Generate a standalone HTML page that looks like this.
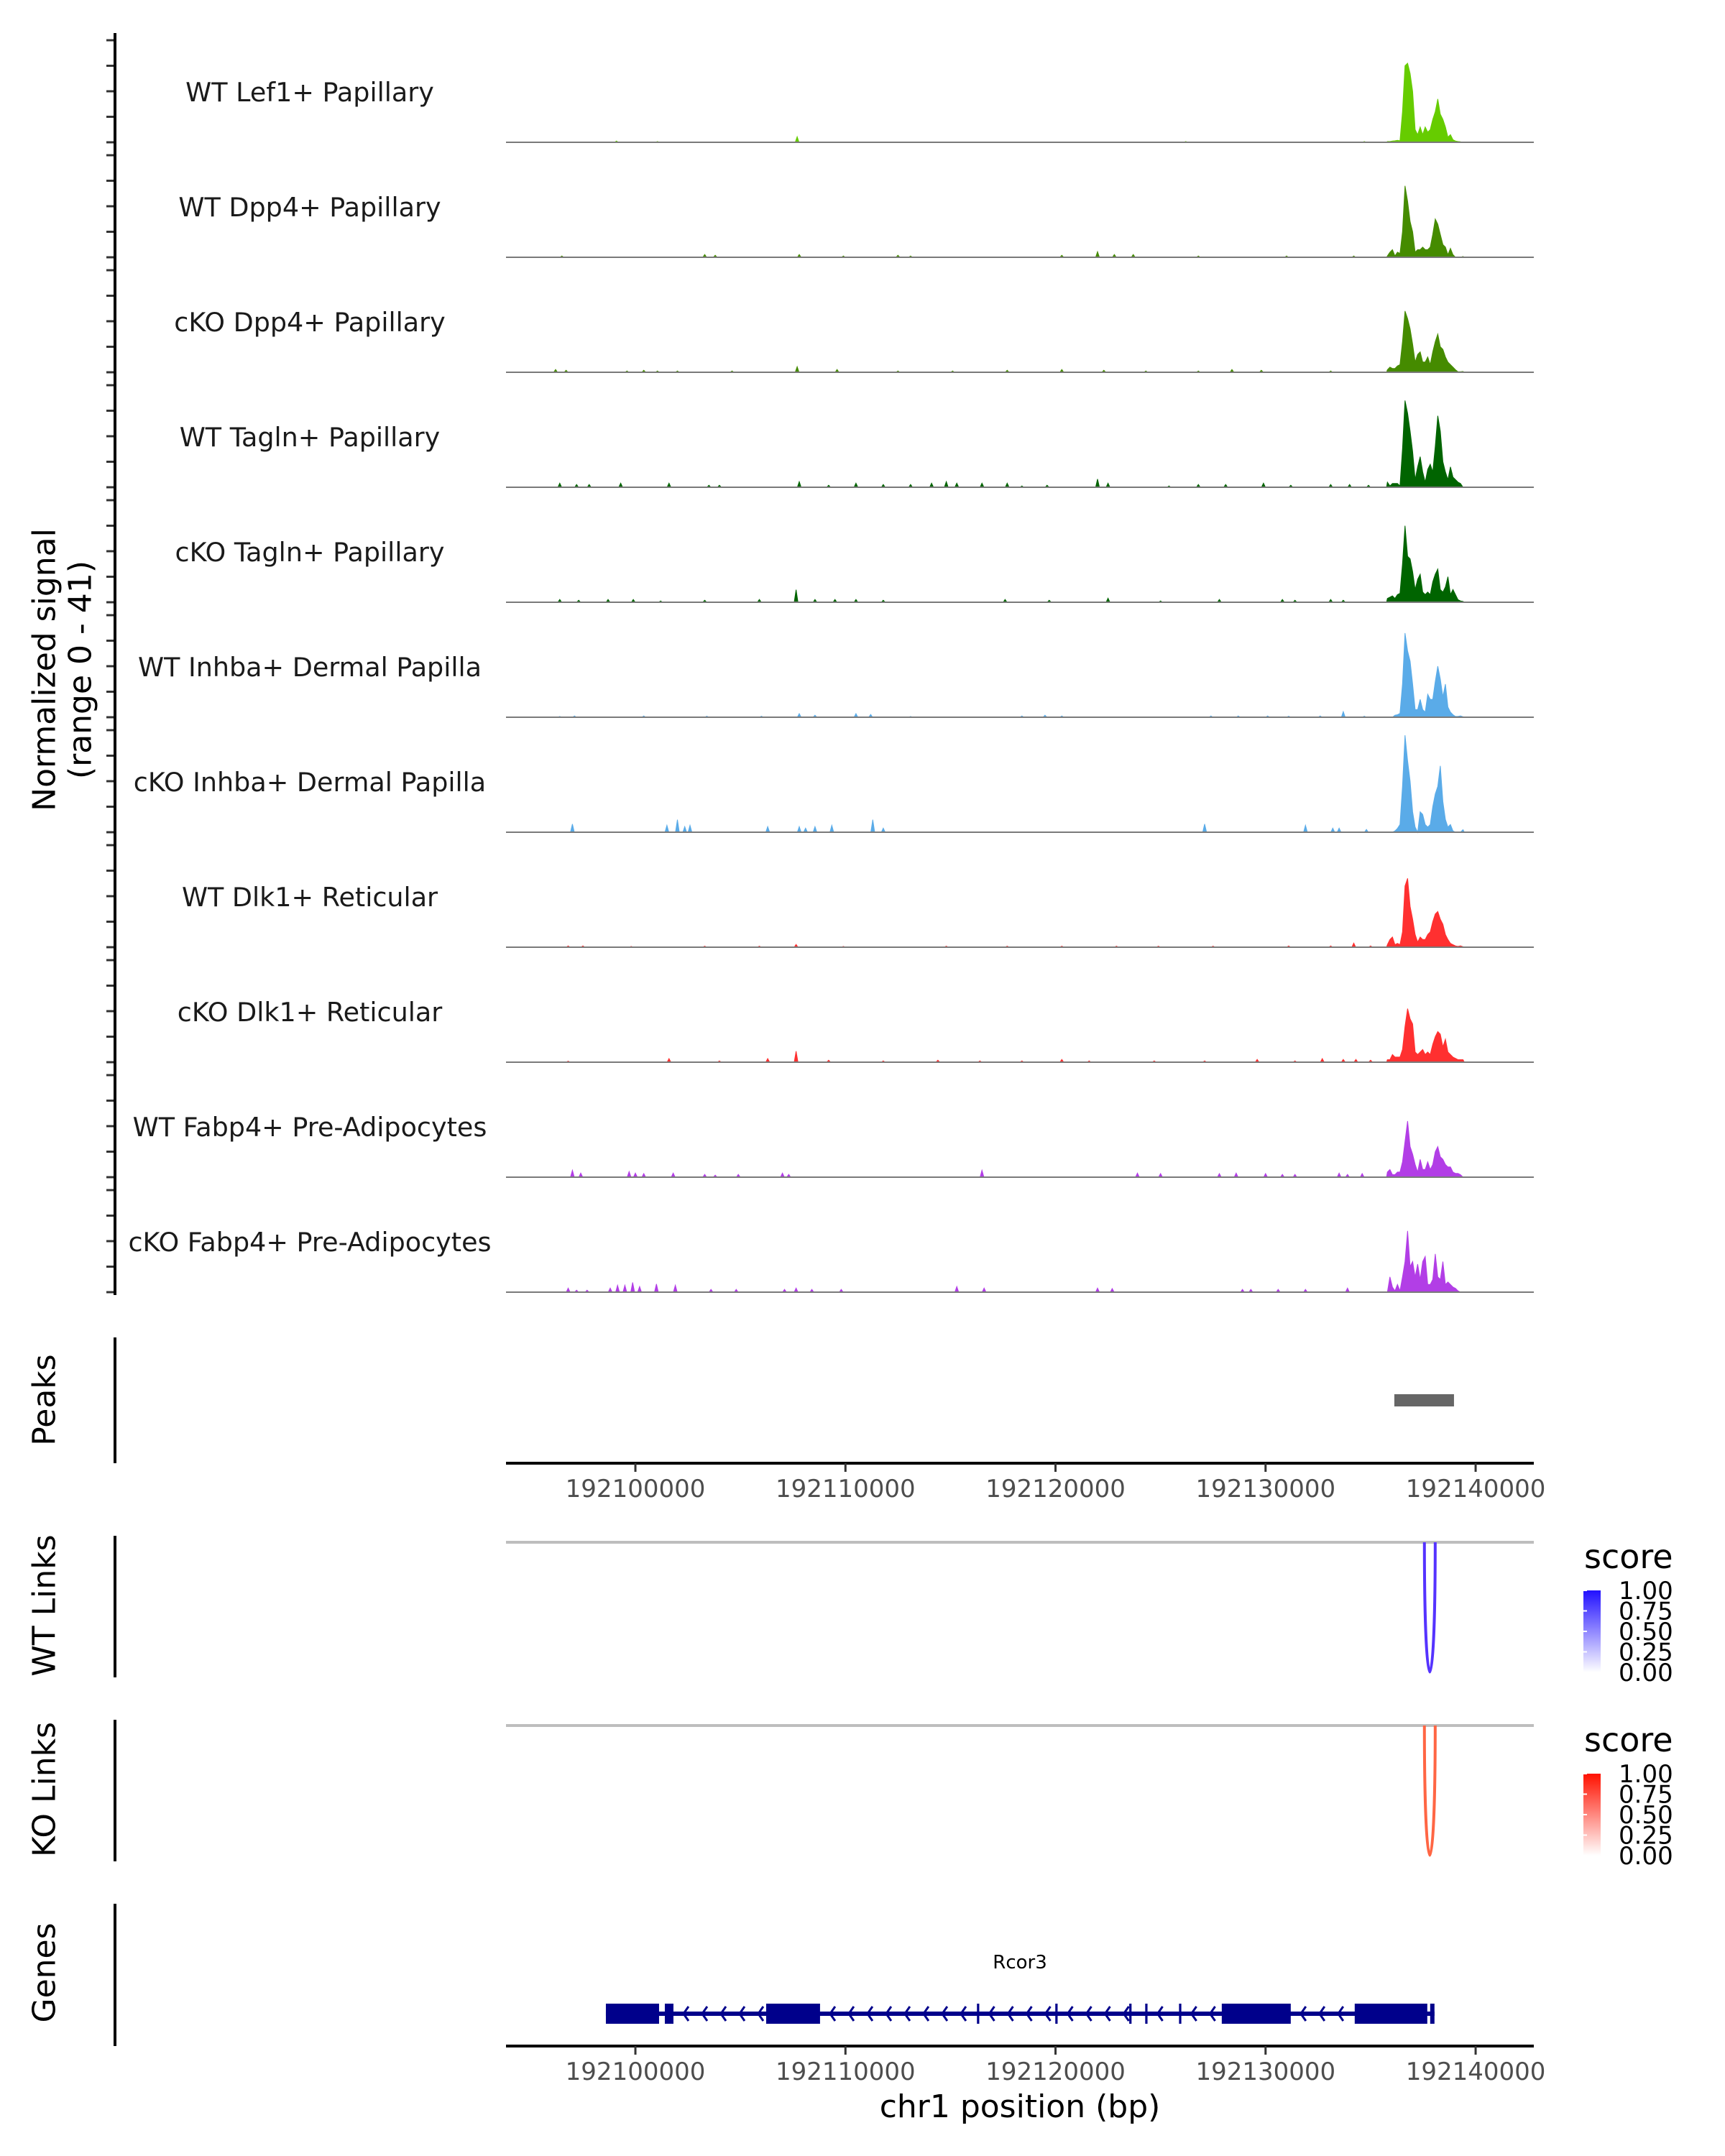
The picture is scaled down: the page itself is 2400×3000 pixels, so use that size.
<!DOCTYPE html>
<html><head><meta charset="utf-8"><style>
html,body{margin:0;padding:0;background:#fff;}
svg{display:block;font-family:"DejaVu Sans","Liberation Sans",sans-serif;}
</style></head><body>
<svg id="chart" xmlns="http://www.w3.org/2000/svg" width="2400" height="3000" viewBox="0 0 2400 3000">
<rect width="2400" height="3000" fill="#fff"/>
<g id="tracks"></g>
<g id="axes"></g>
<g id="genes"></g>
<g id="links"></g>
<text transform="translate(62,932) rotate(-90)" text-anchor="middle" dominant-baseline="central" font-size="44" fill="#000">Normalized signal</text>
<text transform="translate(112,932) rotate(-90)" text-anchor="middle" dominant-baseline="central" font-size="44" fill="#000">(range 0 - 41)</text>
<text transform="translate(62,1948) rotate(-90)" text-anchor="middle" dominant-baseline="central" font-size="44" fill="#000">Peaks</text>
<text transform="translate(62,2234) rotate(-90)" text-anchor="middle" dominant-baseline="central" font-size="44" fill="#000">WT Links</text>
<text transform="translate(62,2490) rotate(-90)" text-anchor="middle" dominant-baseline="central" font-size="44" fill="#000">KO Links</text>
<text transform="translate(62,2745) rotate(-90)" text-anchor="middle" dominant-baseline="central" font-size="44" fill="#000">Genes</text>
<text x="1419" y="2946" text-anchor="middle" font-size="44" fill="#000">chr1 position (bp)</text>
<text x="1419" y="2739" text-anchor="middle" font-size="26" fill="#000">Rcor3</text>
</svg>
<script>
const trackNames = ["WT Lef1+ Papillary","WT Dpp4+ Papillary","cKO Dpp4+ Papillary","WT Tagln+ Papillary","cKO Tagln+ Papillary","WT Inhba+ Dermal Papilla","cKO Inhba+ Dermal Papilla","WT Dlk1+ Reticular","cKO Dlk1+ Reticular","WT Fabp4+ Pre-Adipocytes","cKO Fabp4+ Pre-Adipocytes"];
const trackColors = ["#66cc00","#458b00","#458b00","#006400","#006400","#5aabe8","#5aabe8","#ff3030","#ff3030","#b23ee6","#b23ee6"];
// peak region bins (kb)
const peakPos = [192135.80,192135.92,192136.04,192136.16,192136.28,192136.40,192136.52,192136.64,192136.76,192136.88,192137.00,192137.12,192137.24,192137.36,192137.48,192137.60,192137.72,192137.84,192137.96,192138.08,192138.20,192138.32,192138.44,192138.56,192138.68,192138.80,192138.92,192139.04,192139.16,192139.28,192139.40];
const peak1 = [0.3,0.3,0.5,0.6,0.8,0.6,12,30,31,27,20,5,3,6,3,6,4,5,9,12,17,11,9,6,2,3,1,0.5,0.3,0.2,0.1];
const peak2 = [0.5,2,3,0.5,2,1.5,10,28,22,14,10,2,3,3,4,3,3,4,9,15,13,9,5,4,1,3.5,1,0,0,0,0.3];
const peak3 = [1,2,1.5,1.5,2.5,3,12,24,21,17,11,4,7,8,4,4,6,3,8,12,15,10,9,6,4,3,2,1,0.2,0.2,0.3];
const peak4 = [2,0.5,1.5,1.5,1.5,0.5,15,34,29,22,14,3,8,12,6,2,7,9,6,16,28,22,10,6,3,8,4,3,2,1.5,0];
const peak5 = [1.5,2,2.5,1.5,3,3.5,15,30,18,17,12,5,9,11,4,3,4,3,8,11,13,5,4,6,10,3,5,3,1,0.5,0.3];
const peak6 = [0,0,0,0.8,1,1.5,13,33,26,22,13,3,3,7,3,2,9,7,7,14,20,15,8,13,4,2,1,0.3,0.3,0.5,0.2];
const peak7 = [0,0,0,0.5,1.5,3,18,38,28,20,8,2,0,8,7,3,2,3,10,15,18,26,12,5,2,3,0.5,0,0,0,1];
const peak8 = [1,3,4,1,1.5,1,6,24,27,16,11,5,2,4,3,3,5,6,10,13,14,11,9,5,3,1.5,1,0.5,0.3,0.5,0.2];
const peak9 = [1,1,3,2,2,2,5,14,21,17,15,4,3,4,5,3,4,3,7,10,12,11,6,9,4,3,2,1.5,1,1,1];
const peak10 = [2,3,1,1,2,2,6,14,22,12,9,5,2,7,3,3,6,3,5,10,12,8,7,5,4,4,2,1.5,1.5,1,0];
const peak11 = [0,6,2,0.5,3,0.5,6,12,24,10,12,6,11,5,12,14,3,3,5,15,6,5,12,3,4,3,2,1.5,0.5,0,0];
// background spikes: positions (kb) and values
const spikePos1 = [192099.1,192101.05,192107.7,192126.2,192134.7];
const spikeVal1 = [0.5,0.3,2.2,0.3,0.3];
const spikePos2 = [192096.5,192103.3,192103.8,192107.8,192109.9,192112.5,192113.1,192120.3,192122.0,192122.8,192123.7,192126.8,192131.0,192134.2];
const spikeVal2 = [0.5,1.1,0.8,1.1,0.5,0.8,0.5,0.8,2.2,1.1,1.1,0.5,0.5,0.5];
const spikePos3 = [192096.2,192096.7,192099.6,192100.4,192101.05,192102.0,192104.6,192107.7,192109.6,192112.5,192115.1,192117.7,192120.3,192122.3,192124.3,192126.8,192128.4,192129.8,192133.1];
const spikeVal3 = [1.1,0.8,0.5,0.8,0.5,0.5,0.5,2.2,1.1,0.5,0.5,0.8,1.1,0.8,0.5,0.5,1.1,0.8,0.5];
const spikePos4 = [192096.4,192097.2,192097.8,192099.3,192101.6,192103.5,192104.0,192107.8,192109.2,192110.5,192111.8,192113.1,192114.1,192114.8,192115.3,192116.5,192117.7,192118.4,192119.6,192122.0,192122.5,192125.4,192126.8,192128.1,192129.9,192131.2,192133.1,192134.0,192134.9];
const spikeVal4 = [1.6,1.1,1.1,1.6,1.6,0.8,0.8,2.2,0.8,1.6,1.1,1.1,1.6,2.2,1.6,1.6,1.6,0.5,0.8,3.2,1.6,0.5,1.1,1.1,1.6,0.8,1.1,1.1,0.8];
const spikePos5 = [192096.4,192097.3,192098.7,192099.9,192101.2,192103.3,192105.9,192107.65,192108.55,192109.5,192110.5,192111.8,192117.6,192119.7,192122.5,192125.0,192127.8,192130.8,192131.4,192133.1,192133.7];
const spikeVal5 = [1.1,0.8,1.1,1.1,0.5,0.8,1.1,4.9,1.1,1.1,1.1,0.8,1.1,0.8,1.6,0.5,1.1,1.1,0.8,1.1,0.8];
const spikePos6 = [192096.4,192097.1,192100.4,192103.4,192106.0,192107.8,192108.55,192110.5,192111.2,192113.1,192118.4,192119.5,192120.3,192127.4,192128.7,192130.1,192131.1,192132.6,192133.7,192134.7];
const spikeVal6 = [0.3,0.5,0.5,0.4,0.4,1.4,0.8,1.4,1.1,0.3,0.5,0.8,0.5,0.5,0.5,0.5,0.4,0.5,2.2,0.4];
const spikePos7 = [192097.0,192101.5,192102.0,192102.35,192102.6,192106.3,192107.8,192108.1,192108.55,192109.35,192111.3,192111.8,192127.1,192131.9,192133.2,192133.5,192134.8];
const spikeVal7 = [3.2,2.7,4.9,2.2,2.7,2.2,2.2,1.6,2.2,2.7,4.9,1.6,3.2,2.7,1.6,1.6,1.1];
const spikePos8 = [192096.8,192097.5,192099.8,192103.3,192105.9,192107.65,192109.9,192114.8,192117.7,192120.3,192122.9,192124.9,192127.5,192131.1,192133.1,192134.2,192135.0];
const spikeVal8 = [0.5,0.5,0.3,0.4,0.4,1.1,0.3,0.4,0.4,0.4,0.4,0.4,0.4,0.5,0.5,1.6,0.5];
const spikePos9 = [192096.8,192101.6,192104.0,192106.3,192107.65,192109.2,192111.8,192114.4,192116.4,192118.4,192120.3,192121.6,192124.7,192127.1,192129.6,192131.4,192132.7,192133.7,192134.3,192135.0];
const spikeVal9 = [0.4,1.4,0.5,1.4,4.3,0.8,0.5,0.8,0.5,0.5,1.1,0.5,0.5,0.5,1.1,0.5,1.4,1.1,1.1,0.8];
const spikePos10 = [192097.0,192097.4,192099.7,192100.0,192100.4,192101.8,192103.3,192103.8,192104.9,192107.0,192107.3,192116.5,192123.9,192125.0,192127.8,192128.6,192130.0,192130.8,192131.4,192133.5,192133.9,192134.6];
const spikeVal10 = [2.7,1.6,2.2,1.6,1.4,1.6,1.1,0.8,1.1,1.6,1.1,2.7,1.6,1.4,1.4,1.6,1.4,1.1,1.1,1.6,1.1,1.4];
const spikePos11 = [192096.8,192097.2,192097.7,192098.8,192099.15,192099.5,192099.87,192100.2,192101.0,192101.9,192103.6,192104.8,192107.1,192107.65,192108.4,192109.8,192115.3,192116.6,192122.0,192122.7,192128.9,192129.3,192130.6,192131.9,192133.9];
const spikeVal11 = [1.6,0.8,0.8,1.6,2.7,2.7,3.8,2.2,3.2,2.7,1.1,1.1,1.1,1.6,1.1,1.1,2.2,1.6,1.6,1.4,1.1,1.1,1.1,1.1,1.6];
const peakSeries = [peak1,peak2,peak3,peak4,peak5,peak6,peak7,peak8,peak9,peak10,peak11];
const spikePosSeries = [spikePos1,spikePos2,spikePos3,spikePos4,spikePos5,spikePos6,spikePos7,spikePos8,spikePos9,spikePos10,spikePos11];
const spikeValSeries = [spikeVal1,spikeVal2,spikeVal3,spikeVal4,spikeVal5,spikeVal6,spikeVal7,spikeVal8,spikeVal9,spikeVal10,spikeVal11];
const xTickLabels = ["192100000","192110000","192120000","192130000","192140000"];
const xTickValues = [192100000,192110000,192120000,192130000,192140000];
const yTickValues = [0,10,20,30,40];
const peakRegions = [[192136130,192138970]];
const geneExons = [[192098595,192101127],[192101401,192101811],[192106225,192108790],[192116260,192116370],[192119990,192120100],[192123510,192123620],[192124270,192124380],[192125880,192125990],[192127915,192131199],[192134244,192137699],[192137836,192138041]];
const geneStart = 192098595, geneEnd = 192138041;
const wtLinks = [[192137562,192138076,0.8]];
const koLinks = [[192137562,192138076,0.7]];
const legendLabels = ["1.00","0.75","0.50","0.25","0.00"];

const NS = "http://www.w3.org/2000/svg";
function mk(tag, attrs, parent){const e=document.createElementNS(NS,tag);for(const k in attrs)e.setAttribute(k,attrs[k]);parent.appendChild(e);return e;}
const X0=704, X1=2134, BP0=192093840, BP1=192142770;
function xs(bp){return X0+(bp-BP0)/(BP1-BP0)*(X1-X0);}
const TRACK_TOP0=198, TRACK_STEP=160, PX_PER_UNIT=3.55;
function ys(k,v){return TRACK_TOP0+k*TRACK_STEP - v*PX_PER_UNIT;}

const gT=document.getElementById('tracks');
const gA=document.getElementById('axes');
for(let k=0;k<trackNames.length;k++){
  const base=ys(k,0);
  const pts=[];
  const sp=spikePosSeries[k], sv=spikeValSeries[k];
  for(let i=0;i<sp.length;i++){const b=sp[i]*1000;pts.push([b-90,0],[b,sv[i]],[b+90,0]);}
  const pv=peakSeries[k];
  pts.push([peakPos[0]*1000-40,0]);
  for(let i=0;i<peakPos.length;i++)pts.push([peakPos[i]*1000,pv[i]]);
  let d='M'+X0+','+base;
  pts.forEach(p=>{d+=' L'+xs(p[0]).toFixed(1)+','+ys(k,p[1]).toFixed(1);});
  d+=' L'+xs(peakPos[peakPos.length-1]*1000+60).toFixed(1)+','+base+' Z';
  const area=mk('path',{d:d,fill:trackColors[k],stroke:trackColors[k],'stroke-width':1},gT);
  
  
  const bl=mk('line',{x1:X0,x2:X1,y1:base,y2:base,stroke:'#7a7a7a','stroke-width':2},gT);
  
  
  const lab=mk('text',{x:431,y:base-57,'text-anchor':'middle','font-size':36.5,fill:'#1a1a1a'},gT);
  lab.textContent=trackNames[k];
  
  
  yTickValues.forEach(v=>{
    const t=mk('line',{x1:148,x2:160,y1:ys(k,v),y2:ys(k,v),stroke:'#333','stroke-width':3},gA);
    
    
  });
}
function vaxis(y1,y2,name){const l=mk('line',{x1:160,x2:160,y1:y1,y2:y2,stroke:'#000','stroke-width':4},gA);}
vaxis(46,1802,'signal-y-axis');
vaxis(1861,2036,'peaks-y-axis');
vaxis(2137,2334,'wt-links-y-axis');
vaxis(2393,2590,'ko-links-y-axis');
vaxis(2649,2847,'genes-y-axis');

// peaks
peakRegions.forEach(r=>{
  const p=mk('rect',{x:xs(r[0]),y:1940,width:xs(r[1])-xs(r[0]),height:17,fill:'#666'},gA);
  
  
});
function xaxis(y,name){
  const l=mk('line',{x1:X0,x2:X1,y1:y,y2:y,stroke:'#000','stroke-width':4},gA);
  
  
  xTickValues.forEach((v,i)=>{
    const t=mk('line',{x1:xs(v),x2:xs(v),y1:y,y2:y+12,stroke:'#333','stroke-width':3},gA);
    
    
    const tl=mk('text',{x:xs(v),y:y+47,'text-anchor':'middle','font-size':34,fill:'#4d4d4d'},gA);
    tl.textContent=xTickLabels[i];
    
    
  });
}
xaxis(2036,'peaks-x-axis');
xaxis(2847,'genes-x-axis');

// genes
const gG=document.getElementById('genes');
const intr=mk('rect',{x:xs(geneStart),y:2799,width:xs(geneEnd)-xs(geneStart),height:6,fill:'#00008b'},gG);


for(let i=0;i<geneExons.length-1;i++){
  const a=xs(geneExons[i][1])+14, b=xs(geneExons[i+1][0])-6;
  for(let x=a;x<b;x+=26){
    const c=mk('polyline',{points:(x+7)+',2792 '+x+',2802 '+(x+7)+',2812',fill:'none',stroke:'#00008b','stroke-width':3},gG);
    
    
  }
}
geneExons.forEach(e=>{
  const w=Math.max(3,xs(e[1])-xs(e[0]));
  const r=mk('rect',{x:xs(e[0]),y:2788,width:w,height:28,fill:'#00008b'},gG);
  
  
});

// links
const gL=document.getElementById('links');
function linkTrack(links,lineY,depth,color,grad,gradId,name){
  const bl=mk('line',{x1:X0,x2:X1,y1:lineY,y2:lineY,stroke:'#bebebe','stroke-width':4},gL);
  
  
  links.forEach(l=>{
    const a=xs(l[0]), b=xs(l[1]);
    const arc=mk('path',{d:'M'+a+','+lineY+' C'+a+','+(lineY+depth*1.33)+' '+b+','+(lineY+depth*1.33)+' '+b+','+lineY,fill:'none',stroke:color,'stroke-width':4},gL);
    
    
  });
  const top=lineY+67, bot=lineY+181;
  const defs=mk('defs',{},gL);
  const lg=mk('linearGradient',{id:gradId,x1:0,y1:0,x2:0,y2:1},defs);
  mk('stop',{offset:'0','stop-color':grad},lg);
  mk('stop',{offset:'1','stop-color':'#ffffff'},lg);
  const bar=mk('rect',{x:2203,y:top,width:24,height:bot-top,fill:'url(#'+gradId+')'},gL);
  
  
  const t=mk('text',{x:2204,y:lineY+36,'font-size':46,fill:'#000'},gL);
  t.textContent='score';
  
  
  legendLabels.forEach((s,i)=>{
    const y=top+i*(bot-top)/4;
    const tk=mk('line',{x1:2203,x2:2208,y1:y,y2:y,stroke:'#fff','stroke-width':2},gL);
    
    
    const lt=mk('text',{x:2252,y:y+12,'font-size':34,fill:'#000'},gL);
    lt.textContent=s;
    
    
  });
}
linkTrack(wtLinks,2146,181,'#5533ff','#2211ff','gradWT','wt-links');
linkTrack(koLinks,2401,181,'#ff6644','#ff1100','gradKO','ko-links');
</script>
</body></html>
